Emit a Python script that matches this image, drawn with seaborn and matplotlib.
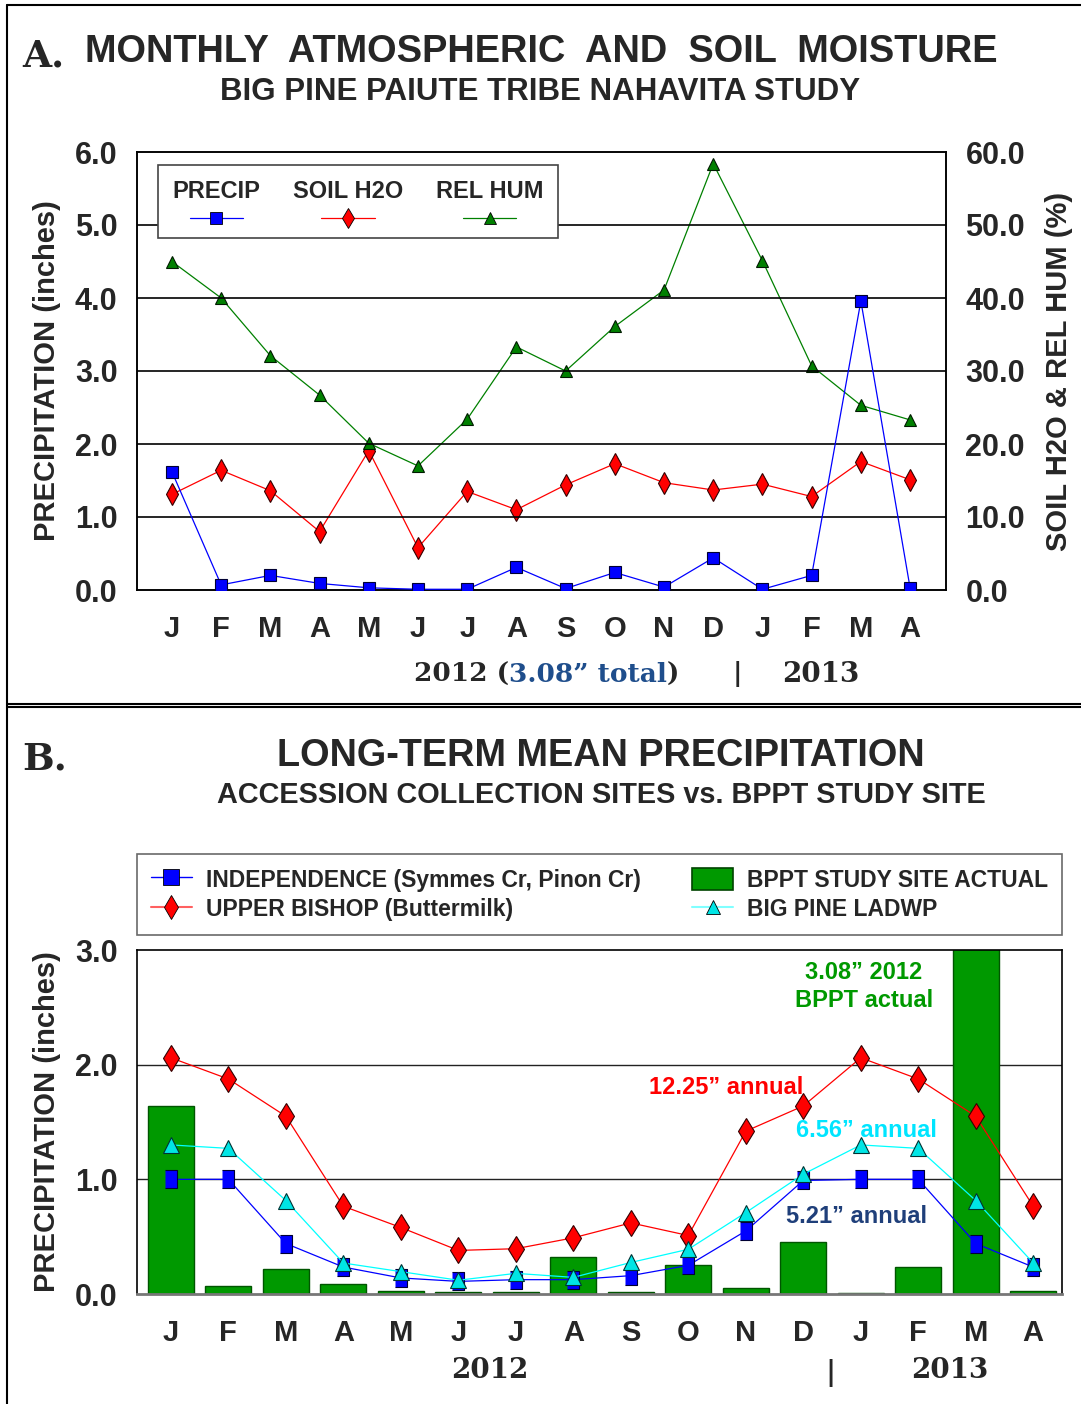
import numpy as np
import pandas as pd
import matplotlib
matplotlib.use("Agg")
import matplotlib.pyplot as plt
import seaborn as sns
from matplotlib.lines import Line2D
from matplotlib.patches import Patch, Rectangle

# ---------------- DATA ----------------
months = ["J", "F", "M", "A", "M", "J", "J", "A", "S", "O", "N", "D", "J", "F", "M", "A"]

# Panel A
precip = [1.62, 0.07, 0.20, 0.09, 0.03, 0.01, 0.01, 0.31, 0.02, 0.24, 0.04, 0.44, 0.01, 0.20, 3.96, 0.03]
soil_h2o = [13.1, 16.4, 13.6, 8.0, 19.1, 5.8, 13.5, 11.0, 14.4, 17.3, 14.7, 13.7, 14.5, 12.8, 17.6, 15.1]
rel_hum = [45.0, 40.0, 32.1, 26.7, 20.1, 17.0, 23.4, 33.3, 30.0, 36.1, 41.1, 58.4, 45.1, 30.7, 25.3, 23.3]

# Panel B
bppt_actual = [1.64, 0.07, 0.215, 0.087, 0.03, 0.017, 0.017, 0.326, 0.017, 0.256, 0.05, 0.45, 0.01, 0.233, 3.96, 0.03]
independence = [1.00, 1.00, 0.44, 0.235, 0.14, 0.11, 0.125, 0.125, 0.16, 0.25, 0.55, 0.99, 1.00, 1.00, 0.44, 0.235]
upper_bishop = [2.06, 1.875, 1.55, 0.765, 0.58, 0.38, 0.395, 0.49, 0.62, 0.51, 1.42, 1.64, 2.06, 1.875, 1.55, 0.765]
big_pine = [1.30, 1.27, 0.815, 0.27, 0.195, 0.12, 0.18, 0.145, 0.275, 0.39, 0.71, 1.045, 1.30, 1.27, 0.815, 0.27]

a_yticks = [0.0, 1.0, 2.0, 3.0, 4.0, 5.0, 6.0]
a_y2ticks = [0.0, 10.0, 20.0, 30.0, 40.0, 50.0, 60.0]
b_yticks = [0.0, 1.0, 2.0, 3.0]

idx = list(range(len(months)))
dfA = pd.DataFrame({"i": idx, "precip": precip, "soil": soil_h2o, "rh": rel_hum})
dfB = pd.DataFrame({"i": idx, "bppt": bppt_actual, "ind": independence, "ub": upper_bishop, "bp": big_pine})

# ---------------- STYLE ----------------
sns.set_theme(style="white")
SANS = ["Liberation Sans", "DejaVu Sans"]
SERIF = ["DejaVu Serif"]
plt.rcParams["font.family"] = SANS
plt.rcParams["font.weight"] = "bold"

W, H = 1081, 1404
fig = plt.figure(figsize=(W / 100, H / 100), dpi=100)

def fx(px):
    return px / W

def fy(py):
    return 1 - py / H

TICK_FS = 22
MONTH_FS = 21
YLAB_FS = 21
YPAD = 14
XPAD = 18

# panel frames
fig.add_artist(Line2D([fx(7), 1], [fy(5), fy(5)], color="black", lw=1.5))
fig.add_artist(Line2D([fx(7), fx(7)], [fy(5), 0], color="black", lw=1.5))
fig.add_artist(Line2D([fx(7), 1], [fy(704), fy(704)], color="black", lw=1.5))
fig.add_artist(Line2D([fx(7), 1], [fy(707.5), fy(707.5)], color="black", lw=1.5))

# ---------------- PANEL A ----------------
axA = fig.add_axes([fx(137), fy(590), fx(946 - 137), (590 - 152) / H])
for y in a_yticks[1:-1]:
    axA.axhline(y, color="black", lw=1.2, zorder=0)

sns.lineplot(data=dfA, x="i", y="precip", ax=axA, color="#0000FF", lw=0.9,
             marker="s", markersize=9, markerfacecolor="#0000FF",
             markeredgecolor="#000033", markeredgewidth=0.8, zorder=4)
axA.set_xlim(-0.71, 15.73)
axA.set_ylim(0, 6)
axA.set_yticks(a_yticks)
axA.set_yticklabels([f"{v:.1f}" for v in a_yticks], fontsize=TICK_FS, fontweight="bold")
axA.set_xticks(idx)
axA.set_xticklabels(months, fontsize=MONTH_FS, fontweight="bold")
axA.tick_params(axis="y", length=0, pad=YPAD)
axA.tick_params(axis="x", length=0, pad=XPAD)
axA.set_xlabel("")
axA.set_ylabel("PRECIPITATION (inches)", fontsize=YLAB_FS, fontweight="bold", labelpad=10)
for s in axA.spines.values():
    s.set_color("black")
    s.set_linewidth(1.2)

axA2 = axA.twinx()
sns.lineplot(data=dfA, x="i", y="soil", ax=axA2, color="#FF0000", lw=0.9,
             marker="d", markersize=11, markerfacecolor="#FF0000",
             markeredgecolor="#330000", markeredgewidth=0.8)
sns.lineplot(data=dfA, x="i", y="rh", ax=axA2, color="#008000", lw=0.9,
             marker="^", markersize=9, markerfacecolor="#008000",
             markeredgecolor="#001a00", markeredgewidth=0.8)
axA2.set_ylim(0, 60)
axA2.set_yticks(a_y2ticks)
axA2.set_yticklabels([f"{v:.1f}" for v in a_y2ticks], fontsize=TICK_FS, fontweight="bold")
axA2.tick_params(axis="y", length=0, pad=YPAD)
axA2.set_ylabel("SOIL H2O & REL HUM (%)", fontsize=YLAB_FS, fontweight="bold", labelpad=14)
axA2.grid(False)
axA.set_zorder(axA2.get_zorder() + 1)
axA.patch.set_visible(False)

# legend A (custom box: labels above handles)
leg_box = Rectangle((0.026, 0.804), 0.494, 0.166, transform=axA.transAxes,
                    facecolor="white", edgecolor="#444444", lw=1.2, zorder=6)
axA.add_patch(leg_box)
legA_items = [("PRECIP", 0.098, "#0000FF", "s", 9),
              ("SOIL H2O", 0.261, "#FF0000", "d", 10),
              ("REL HUM", 0.436, "#008000", "^", 9)]
for lab, cx, col, mk, ms in legA_items:
    axA.text(cx, 0.909, lab, transform=axA.transAxes, ha="center", va="center",
             fontsize=17, fontweight="bold", zorder=7)
    axA.add_line(Line2D([cx - 0.033, cx + 0.033], [0.849, 0.849], transform=axA.transAxes,
                        color=col, lw=0.9, zorder=7))
    axA.add_line(Line2D([cx], [0.849], transform=axA.transAxes, color=col, marker=mk,
                        markersize=ms, markerfacecolor=col, markeredgecolor="black",
                        markeredgewidth=0.6, zorder=8))

# Titles A
fig.text(fx(22), fy(56), "A.", fontsize=27, fontweight="bold", family=SERIF, ha="left", va="center")
fig.text(fx(541), fy(52), "MONTHLY  ATMOSPHERIC  AND  SOIL  MOISTURE", fontsize=27.4,
         fontweight="bold", ha="center", va="center")
fig.text(fx(540), fy(92), "BIG PINE PAIUTE TRIBE NAHAVITA STUDY", fontsize=22.5,
         fontweight="bold", ha="center", va="center")

# year line A
ty = fy(674)
YR_FS = 19
t1 = fig.text(fx(414), ty, "2012 (", fontsize=YR_FS, fontweight="bold", family=SERIF, ha="left", va="center")
fig.canvas.draw()
r = fig.canvas.get_renderer()
bb = t1.get_window_extent(r)
t2 = fig.text(bb.x1 / W, ty, "3.08\u201d total", fontsize=YR_FS, fontweight="bold", family=SERIF,
              color="#1F4E8C", ha="left", va="center")
bb2 = t2.get_window_extent(r)
fig.text(bb2.x1 / W, ty, ")", fontsize=YR_FS, fontweight="bold", family=SERIF, ha="left", va="center")
fig.text(fx(737), ty, "|", fontsize=YR_FS, fontweight="bold", family=SERIF, ha="center", va="center")
fig.text(fx(821), ty, "2013", fontsize=20, fontweight="bold", family=SERIF, ha="center", va="center")

# ---------------- PANEL B ----------------
axB = fig.add_axes([fx(137), fy(1294), fx(1062 - 137), (1294 - 950) / H])
for y in b_yticks[1:-1]:
    axB.axhline(y, color="#222222", lw=1.0, zorder=0)

sns.barplot(data=dfB, x="i", y="bppt", ax=axB, color="#009900", width=0.8,
            edgecolor="#005500", linewidth=1.0, saturation=1, zorder=1)
sns.lineplot(data=dfB, x="i", y="ub", ax=axB, color="#FF0000", lw=0.9,
             marker="d", markersize=13, markerfacecolor="#FF0000",
             markeredgecolor="#330000", markeredgewidth=0.8, zorder=3)
sns.lineplot(data=dfB, x="i", y="ind", ax=axB, color="#0000FF", lw=0.9,
             marker=[(-0.7, -1), (0.7, -1), (0.7, 1), (-0.7, 1)], markersize=13,
             markerfacecolor="#0000FF", markeredgecolor="#000033", markeredgewidth=0.8, zorder=4)
sns.lineplot(data=dfB, x="i", y="bp", ax=axB, color="#00FFFF", lw=0.9,
             marker="^", markersize=11, markerfacecolor="#00E5E5",
             markeredgecolor="#003333", markeredgewidth=0.8, zorder=5)
axB.set_xlim(-0.59, 15.5)
axB.set_ylim(0, 3)
axB.set_yticks(b_yticks)
axB.set_yticklabels([f"{v:.1f}" for v in b_yticks], fontsize=TICK_FS, fontweight="bold")
axB.set_xticks(idx)
axB.set_xticklabels(months, fontsize=MONTH_FS, fontweight="bold")
axB.tick_params(axis="y", length=0, pad=YPAD)
axB.tick_params(axis="x", length=0, pad=XPAD)
axB.set_xlabel("")
axB.set_ylabel("PRECIPITATION (inches)", fontsize=YLAB_FS, fontweight="bold", labelpad=10)
for s in axB.spines.values():
    s.set_color("black")
    s.set_linewidth(1.2)
axB.spines["bottom"].set_color("#777777")
axB.spines["bottom"].set_linewidth(2.0)

# legend B
hB = [Line2D([], [], color="#0000FF", lw=1, marker="s", markersize=11, markerfacecolor="#0000FF",
             markeredgecolor="black", markeredgewidth=0.6),
      Line2D([], [], color="#FF6060", lw=1.5, marker="d", markersize=12, markerfacecolor="#FF0000",
             markeredgecolor="black", markeredgewidth=0.6),
      Patch(facecolor="#009900", edgecolor="#004400", lw=1.2),
      Line2D([], [], color="#80FFFF", lw=1.5, marker="^", markersize=10, markerfacecolor="#00E5E5",
             markeredgecolor="black", markeredgewidth=0.6)]
lB = ["INDEPENDENCE (Symmes Cr, Pinon Cr)", "UPPER BISHOP (Buttermilk)",
      "BPPT STUDY SITE ACTUAL", "BIG PINE LADWP"]
legB = axB.legend(hB, lB, ncol=2, loc="lower left", bbox_to_anchor=(0.0, 1.044, 1.0, 0.238),
                  mode="expand", frameon=True, fancybox=False, prop={"size": 16.5, "weight": "bold"},
                  handlelength=1.8, handleheight=1.1, borderaxespad=0, columnspacing=0.6,
                  labelspacing=0.25, handletextpad=0.6, borderpad=0.6)
legB.get_frame().set_edgecolor("#444444")
legB.get_frame().set_linewidth(1.2)

# annotations B
ANN_FS = 17
axB.text(12.05, 2.80, "3.08\u201d 2012", color="#009900", fontsize=ANN_FS, fontweight="bold",
         ha="center", va="center")
axB.text(12.05, 2.56, "BPPT actual", color="#009900", fontsize=ANN_FS, fontweight="bold",
         ha="center", va="center")
axB.text(9.65, 1.80, "12.25\u201d annual", color="#FF0000", fontsize=ANN_FS, fontweight="bold",
         ha="center", va="center")
axB.text(12.1, 1.43, "6.56\u201d annual", color="#00E5FF", fontsize=ANN_FS, fontweight="bold",
         ha="center", va="center")
axB.text(11.93, 0.68, "5.21\u201d annual", color="#1F3F7A", fontsize=ANN_FS, fontweight="bold",
         ha="center", va="center")

# Titles B
fig.text(fx(22), fy(759), "B.", fontsize=27, fontweight="bold", family=SERIF, ha="left", va="center")
fig.text(fx(601), fy(756), "LONG-TERM MEAN PRECIPITATION", fontsize=27.3,
         fontweight="bold", ha="center", va="center")
fig.text(fx(601), fy(795), "ACCESSION COLLECTION SITES vs. BPPT STUDY SITE", fontsize=20.8,
         fontweight="bold", ha="center", va="center")

# year line B
fig.text(fx(490), fy(1371), "2012", fontsize=20, fontweight="bold", family=SERIF, ha="center", va="center")
fig.text(fx(830), fy(1373), "|", fontsize=20, fontweight="bold", family=SERIF, ha="center", va="center")
fig.text(fx(950), fy(1371), "2013", fontsize=20, fontweight="bold", family=SERIF, ha="center", va="center")

fig.savefig("out.png", dpi=100)
